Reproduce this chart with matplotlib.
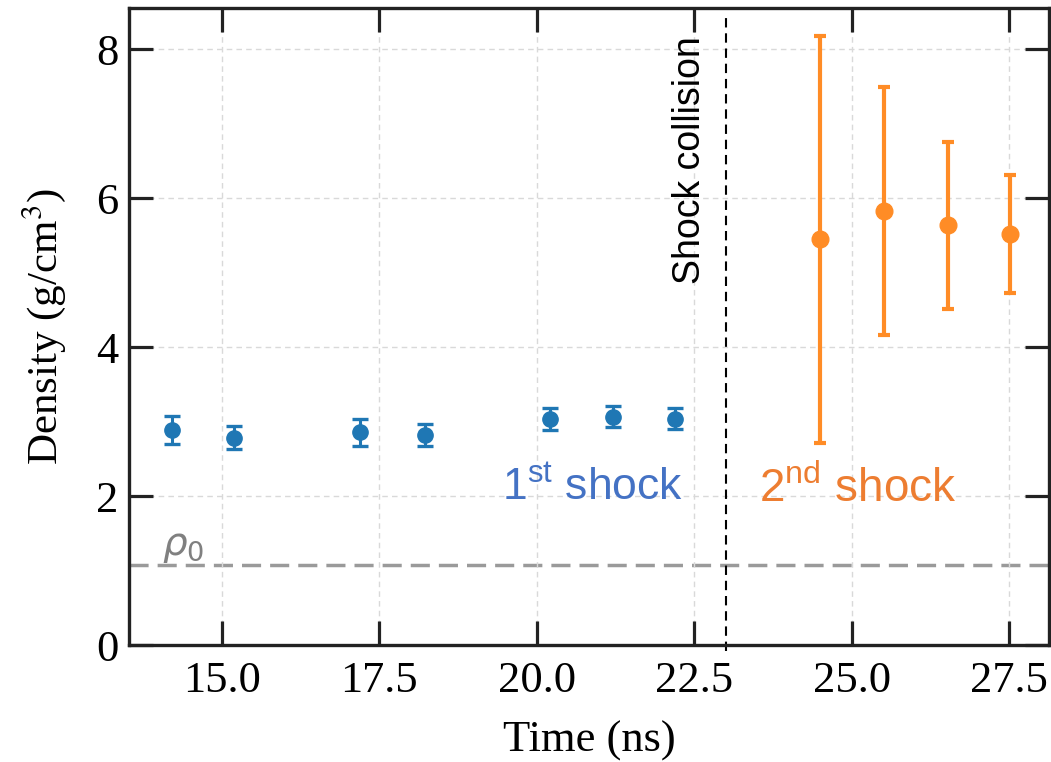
import numpy as np
import matplotlib
matplotlib.use("Agg")
import matplotlib.pyplot as plt

# données
t_choc1 = [14.21, 15.20, 17.20, 18.22, 20.21, 21.21, 22.20]
rho_choc1 = [2.89, 2.79, 2.86, 2.82, 3.04, 3.07, 3.04]
err_choc1 = [0.19, 0.16, 0.18, 0.15, 0.15, 0.14, 0.14]

t_choc2 = [24.50, 25.52, 26.53, 27.52]
rho_choc2 = [5.45, 5.83, 5.64, 5.52]
err_choc2 = [2.73, 1.67, 1.12, 0.79]

rho0 = 1.08
t_collision = 23.0
xticks = [15.0, 17.5, 20.0, 22.5, 25.0, 27.5]
yticks = [0, 2, 4, 6, 8]

bleu = "#1f77b4"
orange = "#ff8c26"

plt.rcParams["mathtext.fontset"] = "custom"
plt.rcParams["mathtext.rm"] = "Liberation Sans"
plt.rcParams["mathtext.it"] = "Liberation Sans:italic"

fig = plt.figure(figsize=(10.51, 7.62), dpi=100)
ax = fig.add_axes([0.123, 0.153, 0.875, 0.836])

# grille
ax.grid(True, color="#d9d9d9", linestyle=(0, (4, 3)), linewidth=1.0, zorder=0)

# ligne rho0
ax.axhline(rho0, color="#9a9a9a", linewidth=2.5, dashes=(5.5, 2.6), zorder=1)
ax.text(14.05, 1.22, r"$\rho_0$", color="#808080", fontsize=28,
        math_fontfamily="dejavusans", ha="left", va="baseline")

# collision
ax.axvline(t_collision, ymin=-0.008, ymax=0.99, color="black", linewidth=1.5,
           dashes=(4.5, 2.8), clip_on=False, zorder=2)
ax.text(22.44, 4.85, "Shock collision", rotation=90, fontsize=27,
        family="Liberation Sans", ha="center", va="bottom")

# points
ax.errorbar(t_choc1, rho_choc1, yerr=err_choc1, fmt="o", color=bleu,
            markersize=11, elinewidth=2.2, capsize=5.5, capthick=2.4, zorder=3)
ax.errorbar(t_choc2, rho_choc2, yerr=err_choc2, fmt="o", color=orange,
            markersize=12, elinewidth=3.0, capsize=4.6, capthick=3.0, zorder=3)

ax.text(19.44, 1.95, r"1$^{\rm st}$ shock", color="#4472c4", fontsize=32,
        family="Liberation Sans", ha="left", va="baseline")
ax.text(23.52, 1.93, r"2$^{\rm nd}$ shock", color="#ed7d31", fontsize=33,
        family="Liberation Sans", ha="left", va="baseline")

# axes
ax.set_xlim(13.53, 28.13)
ax.set_ylim(0, 8.55)
ax.set_xticks(xticks)
ax.set_xticklabels([f"{v:.1f}" for v in xticks])
ax.set_yticks(yticks)
ax.tick_params(direction="in", length=17, width=2.3, top=True, right=True,
               labelsize=32, color="#222222")
ax.tick_params(axis="x", pad=11)
ax.tick_params(axis="y", pad=8)
for lab in ax.get_xticklabels() + ax.get_yticklabels():
    lab.set_family("Liberation Serif")
for sp in ax.spines.values():
    sp.set_linewidth(2.4)
    sp.set_color("#222222")

ax.set_xlabel("Time (ns)", fontsize=32, family="Liberation Serif", labelpad=14)
ax.set_ylabel(r"Density (g/cm$^3$)", fontsize=31, family="Liberation Serif",
              math_fontfamily="stix", labelpad=20)

fig.savefig("out.png", dpi=100)
